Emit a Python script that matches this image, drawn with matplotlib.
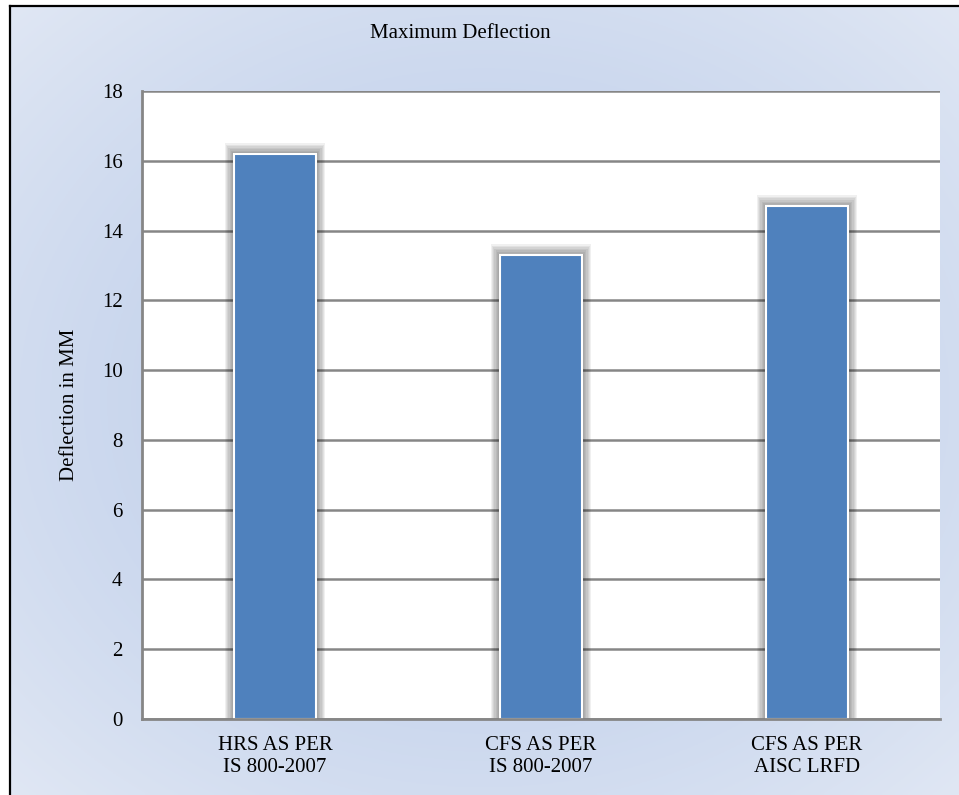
import matplotlib.pyplot as plt
import numpy as np

# bar data
categories = ["HRS AS PER\nIS 800-2007", "CFS AS PER\nIS 800-2007", "CFS AS PER\nAISC LRFD"]
deflection = [16.2, 13.3, 14.7]
y_ticks = [0, 2, 4, 6, 8, 10, 12, 14, 16, 18]

plt.rcParams['font.family'] = ['Liberation Serif', 'DejaVu Serif']

W, H = 959, 795
fig = plt.figure(figsize=(W / 100, H / 100), dpi=100)

# soft blue gradient behind the whole chart
bg = fig.add_axes([10 / W, 0, 1 - 10 / W, 1 - 7 / H], zorder=-10)
yy, xx = np.mgrid[0:1:300j, 0:1:360j]
d = np.sqrt(((xx - 0.5) / 0.5) ** 2 + ((yy - 0.5) / 0.5) ** 2) / np.sqrt(2)
d = np.clip(d, 0, 1) ** 1.6
light = np.array([224, 231, 244]) / 255.0
dark = np.array([190, 206, 234]) / 255.0
img = dark[None, None, :] + (light - dark)[None, None, :] * d[:, :, None]
bg.imshow(img, aspect='auto', extent=[0, 1, 0, 1], origin='upper')
bg.set_axis_off()

# black frame on the left and top edge
fig.add_artist(plt.Line2D([9.5 / W, 9.5 / W], [0, 1 - 6 / H], color='black', lw=1.6,
                          transform=fig.transFigure))
fig.add_artist(plt.Line2D([9.5 / W, 1], [1 - 6 / H, 1 - 6 / H], color='black', lw=1.6,
                          transform=fig.transFigure))

ax = fig.add_axes([142 / W, 1 - 719 / H, (940 - 142) / W, (719 - 91) / H])
ax.set_facecolor('white')

x = np.arange(len(categories))
width = 0.31

# soft shadow around the bars
for k in range(8, 0, -1):
    grow = 0.004 * k
    ax.bar(x, np.array(deflection) + 0.045 * k + 0.03, width=width + 2 * grow,
           bottom=-0.08, color='black', alpha=0.06, zorder=2, linewidth=0)

ax.bar(x, deflection, width=width, color='#4f81bd', edgecolor='white',
       linewidth=1.5, zorder=3)

ax.set_xlim(-0.5, 2.5)
ax.set_ylim(0, 18)
ax.set_yticks(y_ticks)
ax.set_xticks(x)
ax.set_xticklabels(categories, fontsize=15, linespacing=1.25)
ax.tick_params(axis='both', length=0, labelsize=15)
ax.tick_params(axis='y', pad=14)
ax.tick_params(axis='x', pad=12)

ax.yaxis.grid(True, color='#868686', linewidth=1.8, zorder=1)
ax.set_axisbelow(True)
for side in ['top', 'right']:
    ax.spines[side].set_visible(False)
for side in ['left', 'bottom']:
    ax.spines[side].set_color('#868686')
    ax.spines[side].set_linewidth(2)
    ax.spines[side].set_zorder(4)

ax.set_ylabel("Deflection in MM", fontsize=15, labelpad=16)

fig.text(460 / W, 1 - 33 / H, "Maximum Deflection", fontsize=15,
         ha='center', va='center')

fig.savefig('out.png', dpi=100)
